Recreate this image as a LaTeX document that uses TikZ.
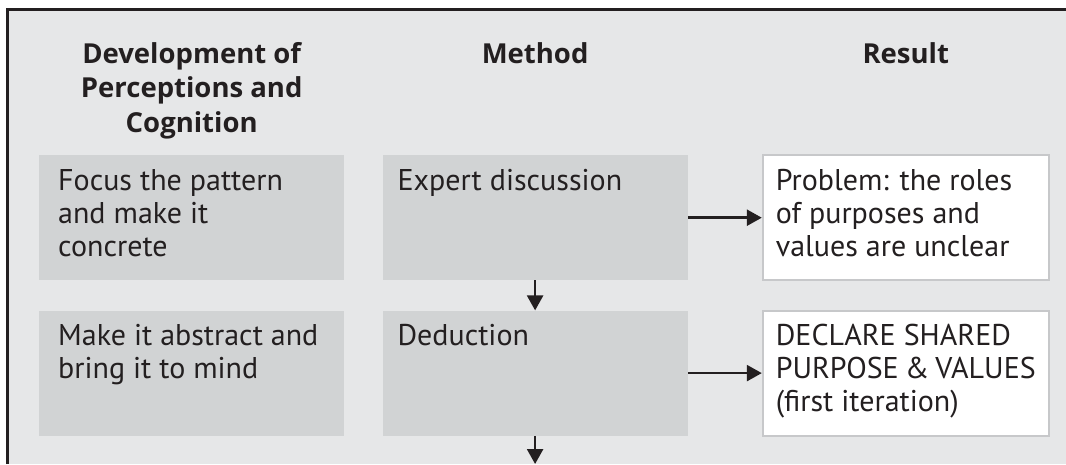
\documentclass[tikz,border=0pt]{standalone}
\usepackage{fontspec}
\setmainfont{PT Sans}
\newfontfamily\headfont{Open Sans}
\usetikzlibrary{positioning, arrows.meta}

\definecolor{panelgray}{HTML}{E6E7E8}
\definecolor{cellgray}{HTML}{D1D3D4}
\definecolor{edgegray}{HTML}{C7C8CA}
\definecolor{inkblack}{HTML}{231F20}

% top aligned text inside the fixed size boxes
\newcommand{\cellbox}[2]{\begin{minipage}[t][97pt][t]{#1}#2\end{minipage}}

\begin{document}
\begin{tikzpicture}
    [x=1pt, y=-1pt,
    every node/.style={text=inkblack},
    head/.style={font=\headfont\fontsize{27.5}{34.5}\selectfont\bfseries, align=center, inner sep=0pt},
    stage/.style={rectangle, fill=cellgray, minimum width=305pt, minimum height=125pt,
    inner ysep=14pt, font=\fontsize{30}{33}\selectfont},
    outcome/.style={rectangle, fill=white, draw=edgegray, line width=2pt, minimum width=286pt,
    minimum height=125pt, inner ysep=14pt, inner xsep=13pt, font=\fontsize{30}{33}\selectfont},
    arrow/.style={draw=inkblack, line width=2.5pt, -{Triangle[length=15pt, width=16pt]}}]
    \useasboundingbox (0,0) rectangle (1066,464);
    \fill [panelgray] (8,10) rectangle (1066,464);
    \draw [inkblack, line width=3pt] (7.8,464) -- (7.8,9.5) -- (1066,9.5);

    \node [stage, inner xsep=19pt, anchor=north west] (focus) at (39,155)
    {\cellbox{267pt}{Focus the pattern\\and make it\\concrete}};
    \node [stage, inner xsep=19pt, below=30pt of focus] (abstract)
    {\cellbox{267pt}{Make it abstract and\\bring it to mind}};
    \node [stage, inner xsep=15pt, right=38pt of focus] (expert)
    {\cellbox{275pt}{Expert discussion}};
    \node [stage, inner xsep=15pt, right=38pt of abstract] (deduction)
    {\cellbox{275pt}{Deduction}};
    \node [outcome, right=74pt of expert] (problem)
    {\cellbox{260pt}{Problem: the roles\\of purposes and\\values are unclear}};
    \node [outcome, right=74pt of deduction] (declare)
    {\cellbox{260pt}{DECLARE SHARED\\PURPOSE \& VALUES\\(first iteration)}};

    \node [head, anchor=north] (devhead) at (focus.north |- 0,42)
    {Development of\\Perceptions and\\Cognition};
    \node [head, anchor=north] (methodhead) at (devhead.north -| expert.north) {Method};
    \node [head, anchor=north] (resulthead) at (devhead.north -| problem.north) {Result};

    \coordinate (next) at (deduction.south |- 0,464);

    \draw [arrow] (expert) -- (problem);
    \draw [arrow] (deduction) -- (declare);
    \draw [arrow] (expert) -- (deduction);
    \draw [arrow] (deduction) -- (next);
  \end{tikzpicture}
\end{document}
